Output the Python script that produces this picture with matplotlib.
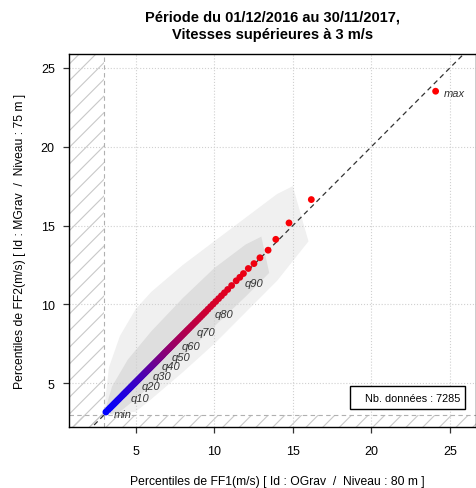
import matplotlib.pyplot as plt
from matplotlib.patches import Rectangle
from matplotlib.colors import LinearSegmentedColormap
import numpy as np

plt.rcParams['font.family'] = ['Liberation Sans', 'DejaVu Sans']
plt.rcParams['hatch.linewidth'] = 0.8

# percentiles q0..q100 des deux mesures (m/s)
ff1 = [3.11, 3.26, 3.37, 3.47, 3.57, 3.66, 3.75, 3.84, 3.93, 4.03, 4.13,
       4.21, 4.28, 4.36, 4.43, 4.51, 4.58, 4.66, 4.73, 4.81, 4.88,
       4.95, 5.01, 5.08, 5.14, 5.21, 5.27, 5.34, 5.40, 5.47, 5.53,
       5.59, 5.65, 5.71, 5.77, 5.83, 5.89, 5.95, 6.01, 6.07, 6.13,
       6.19, 6.25, 6.31, 6.37, 6.43, 6.49, 6.55, 6.61, 6.67, 6.73,
       6.79, 6.86, 6.93, 7.00, 7.07, 7.14, 7.21, 7.28, 7.35, 7.42,
       7.50, 7.59, 7.68, 7.77, 7.86, 7.95, 8.04, 8.13, 8.23, 8.32,
       8.42, 8.53, 8.64, 8.76, 8.87, 8.99, 9.11, 9.23, 9.35, 9.47,
       9.61, 9.77, 9.93, 10.10, 10.28, 10.46, 10.65, 10.86, 11.11, 11.40,
       11.63, 11.86, 12.17, 12.53, 12.91, 13.43, 13.92, 14.76, 16.18, 24.09]
ff2 = [3.18, 3.33, 3.44, 3.54, 3.64, 3.73, 3.82, 3.91, 4.00, 4.10, 4.20,
       4.28, 4.35, 4.43, 4.50, 4.58, 4.65, 4.73, 4.80, 4.88, 4.95,
       5.02, 5.08, 5.15, 5.21, 5.28, 5.34, 5.41, 5.47, 5.54, 5.60,
       5.66, 5.72, 5.78, 5.84, 5.90, 5.96, 6.02, 6.08, 6.14, 6.20,
       6.26, 6.32, 6.38, 6.44, 6.50, 6.56, 6.62, 6.68, 6.74, 6.80,
       6.87, 6.94, 7.01, 7.08, 7.15, 7.22, 7.29, 7.36, 7.43, 7.50,
       7.58, 7.67, 7.76, 7.85, 7.94, 8.03, 8.12, 8.21, 8.31, 8.40,
       8.50, 8.61, 8.72, 8.84, 8.95, 9.07, 9.19, 9.31, 9.43, 9.55,
       9.70, 9.86, 10.02, 10.19, 10.37, 10.55, 10.74, 10.95, 11.20, 11.50,
       11.72, 11.96, 12.28, 12.59, 12.96, 13.44, 14.13, 15.17, 16.65, 23.52]

labels = {0: 'min', 10: 'q10', 20: 'q20', 30: 'q30', 40: 'q40', 50: 'q50',
          60: 'q60', 70: 'q70', 80: 'q80', 90: 'q90', 100: 'max'}

# contour du nuage des donnees brutes (frange peu dense puis coeur dense)
nuage_x = [3.0, 3.3, 4.0, 5.0, 6.0, 8.0, 10.0, 12.0, 14.0, 15.0, 16.0, 14.0, 12.0, 10.0, 8.0, 6.0, 5.0, 3.5]
nuage_y = [3.3, 6.0, 8.0, 9.7, 10.8, 12.5, 14.0, 15.5, 17.0, 17.5, 14.0, 11.5, 9.5, 7.5, 5.7, 4.0, 3.2, 3.0]
dense_x = [3.0, 3.5, 4.5, 6.0, 8.0, 10.0, 12.0, 13.0, 13.5, 12.0, 10.0, 8.0, 6.0, 5.0, 4.0, 3.2]
dense_y = [3.1, 4.8, 6.5, 8.3, 10.4, 12.3, 13.8, 14.3, 12.0, 10.5, 8.6, 6.7, 4.9, 4.0, 3.2, 3.0]

nb_donnees = 7285
seuil = 3
ticks = [5, 10, 15, 20, 25]

fig = plt.figure(figsize=(4.77, 4.89), dpi=100)
ax = fig.add_axes([69 / 477, 1 - 428 / 489, (476 - 69) / 477, (428 - 55) / 489])
x0, x1 = 0.76, 26.66
y0, y1 = 2.23, 25.88
ax.set_xlim(x0, x1)
ax.set_ylim(y0, y1)

# nuage de points bruts
ax.fill(nuage_x, nuage_y, color='#f0f0f0', lw=0, zorder=0)
ax.fill(dense_x, dense_y, color='#dedede', lw=0, zorder=0)

# grille pointillee
for v in ticks:
    ax.axvline(v, color='#d0d0d0', ls=':', lw=0.8, zorder=1)
    ax.axhline(v, color='#d0d0d0', ls=':', lw=0.8, zorder=1)

# zones sous le seuil de vitesse
ax.add_patch(Rectangle((x0, y0), seuil - x0, y1 - y0, facecolor='none',
                       edgecolor='#c8c8c8', hatch='//', lw=0, zorder=1))
ax.add_patch(Rectangle((x0, y0), x1 - x0, seuil - y0, facecolor='none',
                       edgecolor='#c8c8c8', hatch='//', lw=0, zorder=1))
ax.axvline(seuil, color='#b0b0b0', ls=(0, (4, 3)), lw=0.8, zorder=1)
ax.axhline(seuil, color='#b0b0b0', ls=(0, (4, 3)), lw=0.8, zorder=1)

# premiere bissectrice
ax.plot([0, 30], [0, 30], color='#333333', ls=(0, (4, 3)), lw=0.9, zorder=2)

cmap = LinearSegmentedColormap.from_list('bleu_rouge', ['blue', 'red'])
couleurs = cmap(np.linspace(0, 1, len(ff1)))
ax.scatter(ff1, ff2, c=couleurs, s=24, lw=0, zorder=4)

for i, txt in labels.items():
    ax.annotate(txt, (ff1[i], ff2[i]), xytext=(6, -1.5), textcoords='offset points',
                fontsize=8, style='italic', color='#333333', va='center', zorder=5)

# encart nombre de donnees
ax.add_patch(Rectangle((0.690, 0.048), 0.283, 0.062, transform=ax.transAxes,
                       facecolor='white', edgecolor='black', lw=1, zorder=6))
ax.text(0.961, 0.079, f'Nb. données : {nb_donnees}', transform=ax.transAxes,
        ha='right', va='center', fontsize=7.8, zorder=7)

ax.set_xticks(ticks)
ax.set_yticks(ticks)
ax.tick_params(direction='out', length=4.3, width=0.9, color='#333333', labelsize=9)
ax.tick_params(axis='x', pad=9)
ax.tick_params(axis='y', pad=6)
for s in ax.spines.values():
    s.set_linewidth(1)

fig.text(273 / 477, 1 - 26 / 489, 'Période du 01/12/2016 au 30/11/2017,\nVitesses supérieures à 3 m/s',
         ha='center', va='center', fontweight='bold', fontsize=10.5, linespacing=1.35)
fig.text(277 / 477, 1 - 481.7 / 489, 'Percentiles de FF1(m/s) [ Id : OGrav  /  Niveau : 80 m ]',
         ha='center', va='center', fontsize=8.7)
fig.text(20 / 477, 1 - 241.5 / 489, 'Percentiles de FF2(m/s) [ Id : MGrav  /  Niveau : 75 m ]',
         ha='center', va='center', fontsize=8.7, rotation=90)

fig.savefig('out.png', dpi=100)
